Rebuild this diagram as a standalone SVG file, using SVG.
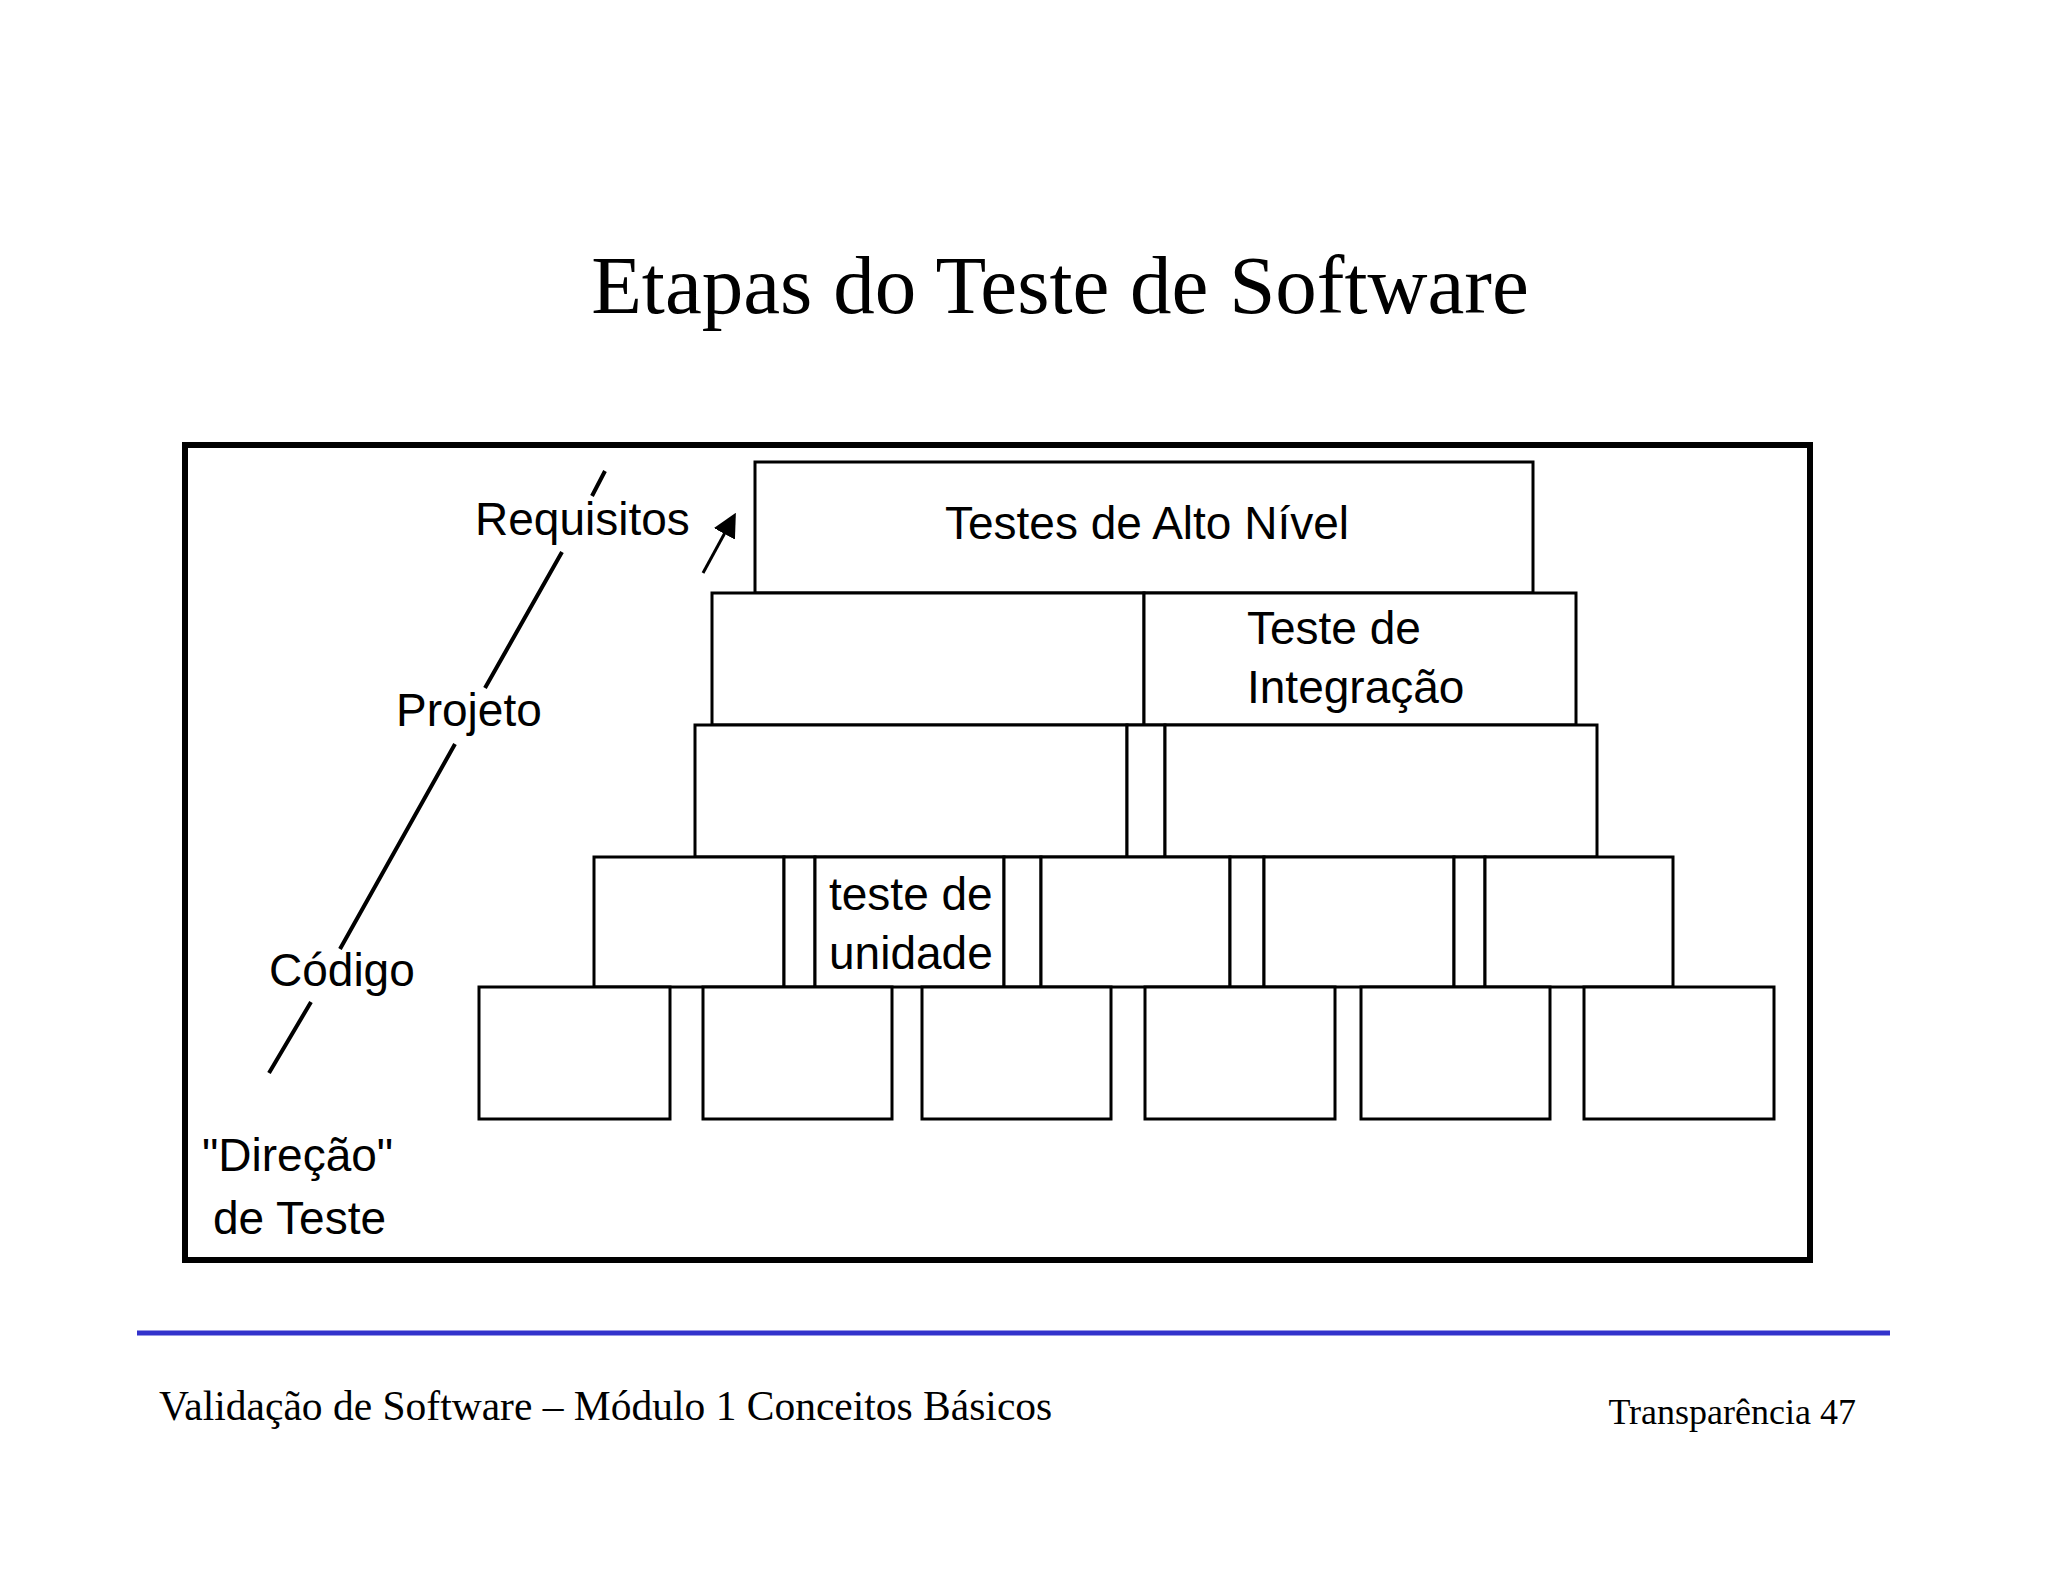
<svg xmlns="http://www.w3.org/2000/svg" width="2048" height="1582" viewBox="0 0 2048 1582">
<style>
.b{fill:#fff;stroke:#000;stroke-width:3}
.t{font-family:"Liberation Sans",Arial,sans-serif;font-size:46px;fill:#000}
.s{font-family:"Liberation Serif","Times New Roman",serif;fill:#000}
.l{stroke:#000;stroke-width:4;fill:none}
</style>
<defs><marker id="ah" markerWidth="8" markerHeight="8" refX="6" refY="4" orient="auto" markerUnits="strokeWidth"><path d="M0,0 L8,4 L0,8 z" fill="#000"/></marker></defs>
<rect width="2048" height="1582" fill="#fff"/>
<text class="s" x="1060" y="313" font-size="83" text-anchor="middle">Etapas do Teste de Software</text>
<rect x="185" y="445" width="1625" height="815" fill="none" stroke="#000" stroke-width="6"/>
<g id="top"><rect class="b" x="755" y="462" width="778" height="131"/><text class="t" x="1147" y="539" text-anchor="middle">Testes de Alto Nível</text></g>
<g id="row2"><rect class="b" x="712" y="593" width="432" height="132"/><rect class="b" x="1144" y="593" width="432" height="132"/><text class="t" x="1247" y="644">Teste de</text><text class="t" x="1247" y="703">Integração</text></g>
<g id="row3"><rect class="b" x="695" y="725" width="432" height="132"/><rect class="b" x="1127" y="725" width="38" height="132"/><rect class="b" x="1165" y="725" width="432" height="132"/></g>
<g id="row4"><rect class="b" x="594" y="857" width="190" height="130"/><rect class="b" x="784" y="857" width="31" height="130"/><rect class="b" x="815" y="857" width="189" height="130"/><rect class="b" x="1004" y="857" width="37" height="130"/><rect class="b" x="1041" y="857" width="189" height="130"/><rect class="b" x="1230" y="857" width="34" height="130"/><rect class="b" x="1264" y="857" width="190" height="130"/><rect class="b" x="1454" y="857" width="31" height="130"/><rect class="b" x="1485" y="857" width="188" height="130"/><text class="t" x="829" y="910">teste de</text><text class="t" x="829" y="969">unidade</text></g>
<g id="row5"><rect class="b" x="479" y="987" width="191" height="132"/><rect class="b" x="703" y="987" width="189" height="132"/><rect class="b" x="922" y="987" width="189" height="132"/><rect class="b" x="1145" y="987" width="190" height="132"/><rect class="b" x="1361" y="987" width="189" height="132"/><rect class="b" x="1584" y="987" width="190" height="132"/></g>
<g id="connectors"><path class="l" d="M605,471 L592,496 M562,552 L485,688 M455,744 L340,949 M311,1002 L269,1073"/><line x1="703" y1="573" x2="733" y2="518" stroke="#000" stroke-width="3" marker-end="url(#ah)"/></g>
<g id="labels"><text class="t" x="475" y="535">Requisitos</text><text class="t" x="396" y="726">Projeto</text><text class="t" x="269" y="986">Código</text><text class="t" x="202" y="1171">"Direção"</text><text class="t" x="213" y="1234">de Teste</text></g>
<line x1="137" y1="1333" x2="1890" y2="1333" stroke="#3333cc" stroke-width="5"/>
<text class="s" x="159" y="1420" font-size="41.5">Validação de Software – Módulo 1 Conceitos Básicos</text>
<text class="s" x="1856" y="1424" font-size="36" text-anchor="end">Transparência 47</text>
</svg>
